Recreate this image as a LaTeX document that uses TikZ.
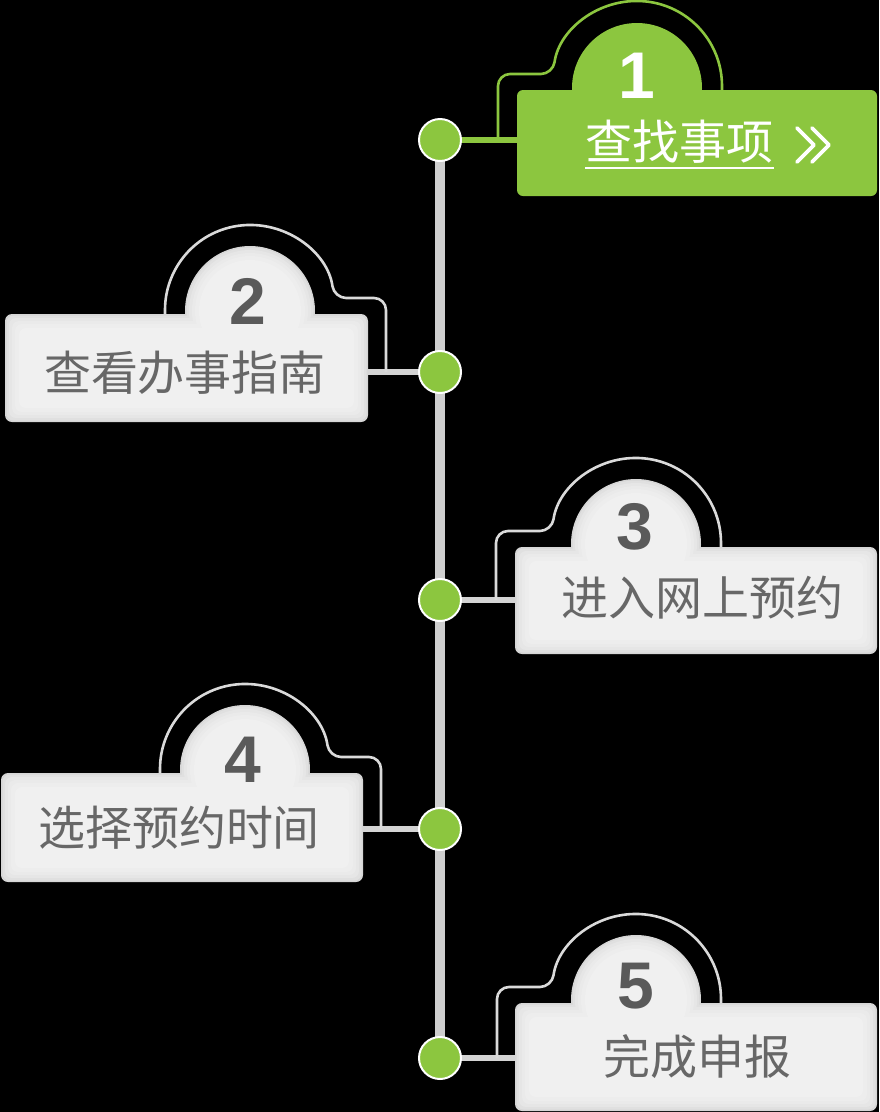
\documentclass[tikz,border=0pt]{standalone}
\usepackage{fontspec}
\newfontfamily\cjk{Noto Sans CJK SC}
\newfontfamily\numf{Liberation Sans}
\definecolor{grn}{HTML}{8CC63F}
\definecolor{vgray}{HTML}{CFCFCF}
\definecolor{cgray}{HTML}{D4D4D4}
\definecolor{agray}{HTML}{DADADA}
\definecolor{txtgray}{HTML}{676767}
\definecolor{numgray}{HTML}{5A5A5A}
\definecolor{cardA}{HTML}{D6D6D6}
\definecolor{cardB}{HTML}{E0E0E0}
\definecolor{cardC}{HTML}{E6E6E6}
\definecolor{cardD}{HTML}{EAEAEA}
\definecolor{cardE}{HTML}{EDEDED}
\definecolor{cardF}{HTML}{F0F0F0}
% gray card: L T R B cx
\newcommand\graycard[5]{%
  \foreach \d/\c in {0/cardA,1.5/cardB,4/cardC,7/cardD,10/cardE,14/cardF}{
    \fill[\c,rounded corners=7pt] (#1+\d,-#2-\d) rectangle (#3-\d,-#4+\d);
    \fill[\c] (#5,-#2+3) circle[radius=65-\d];
  }}
% outer arc, connector on the left: sx T cx cy colour
\newcommand\arcleft[5]{%
  \draw[arcl,#5] (#1,-#4) [rounded corners=12pt] -- (#1,-#2+16) -- (#3-84.15,-#2+16) [sharp corners]
    arc[start angle=171.9,end angle=0,radius=85] -- (#3+85,-#2);}
% outer arc, connector on the right
\newcommand\arcright[5]{%
  \draw[arcl,#5] (#1,-#4) [rounded corners=12pt] -- (#1,-#2+16) -- (#3+84.15,-#2+16) [sharp corners]
    arc[start angle=8.1,end angle=180,radius=85] -- (#3-85,-#2);}
\begin{document}
\begin{tikzpicture}[x=1pt,y=1pt,
  dot/.style={circle,fill=grn,draw=white,line width=2pt,minimum size=42pt,inner sep=0pt},
  conn/.style={line width=6pt},
  arcl/.style={line width=2.6pt},
  vline/.style={line width=10pt,draw=vgray},
  txt/.style={font=\cjk\fontsize{47}{50}\selectfont,inner sep=0pt,text=txtgray},
  num/.style={font=\numf\bfseries\fontsize{66}{70}\selectfont,inner sep=0pt,text=numgray},
  chev/.style={draw=white,line width=3.6pt,line cap=round,line join=round}]
\fill[black] (0,0) rectangle (879,-1112);
\useasboundingbox (0,0) rectangle (879,-1112);
% dot centres and card attachment points
\coordinate (p1) at (440,-140);
\coordinate (p2) at (440,-372);
\coordinate (p3) at (440,-600);
\coordinate (p4) at (440,-829);
\coordinate (p5) at (440,-1058);
\coordinate (c1) at (520,-140);
\coordinate (c2) at (365,-372);
\coordinate (c3) at (518,-600);
\coordinate (c4) at (360,-829);
\coordinate (c5) at (518,-1058);
% spine
\draw[vline] (p1) -- (p5);
% connectors
\draw[conn,grn] (p1) -- (c1);
\draw[conn,cgray] (p2) -- (c2);
\draw[conn,cgray] (p3) -- (c3);
\draw[conn,cgray] (p4) -- (c4);
\draw[conn,cgray] (p5) -- (c5);
% outer arcs
\arcleft{498}{90}{637}{140}{grn}
\arcright{386}{314}{250}{372}{agray}
\arcleft{496}{547}{636}{600}{agray}
\arcright{381}{773}{245}{829}{agray}
\arcleft{497}{1003}{636}{1058}{agray}
% card 1 (green)
\fill[grn,rounded corners=6pt] (517,-90) rectangle (877,-196);
\fill[grn] (637,-88) circle[radius=65];
% gray cards
\graycard{5}{314}{368}{422}{250}
\graycard{515}{547}{877}{654}{636}
\graycard{1}{773}{363}{882}{245}
\graycard{515}{1003}{877}{1111}{636}
% dots
\node[dot] (d1) at (p1) {};
\node[dot] (d2) at (p2) {};
\node[dot] (d3) at (p3) {};
\node[dot] (d4) at (p4) {};
\node[dot] (d5) at (p5) {};
% numbers
\node[num,text=white] (n1) at (637,-76) {1};
\node[num] (n2) at (248,-301) {2};
\node[num] (n3) at (635,-527) {3};
\node[num] (n4) at (243,-760) {4};
\node[num] (n5) at (636,-986) {5};
% labels
\node[txt,text=white] (t1) at (679.5,-142) {查找事项};
\draw[white,line width=2.4pt] ([yshift=-4]t1.south west) -- ([yshift=-4]t1.south east);
\draw[chev] (797,-128) -- (814,-145) -- (797,-162);
\draw[chev] (812,-128) -- (829,-145) -- (812,-162);
\node[txt] (t2) at (185,-373) {查看办事指南};
\node[txt] (t3) at (702,-598) {进入网上预约};
\node[txt] (t4) at (179,-828) {选择预约时间};
\node[txt] (t5) at (697,-1057) {完成申报};
\end{tikzpicture}
\end{document}
